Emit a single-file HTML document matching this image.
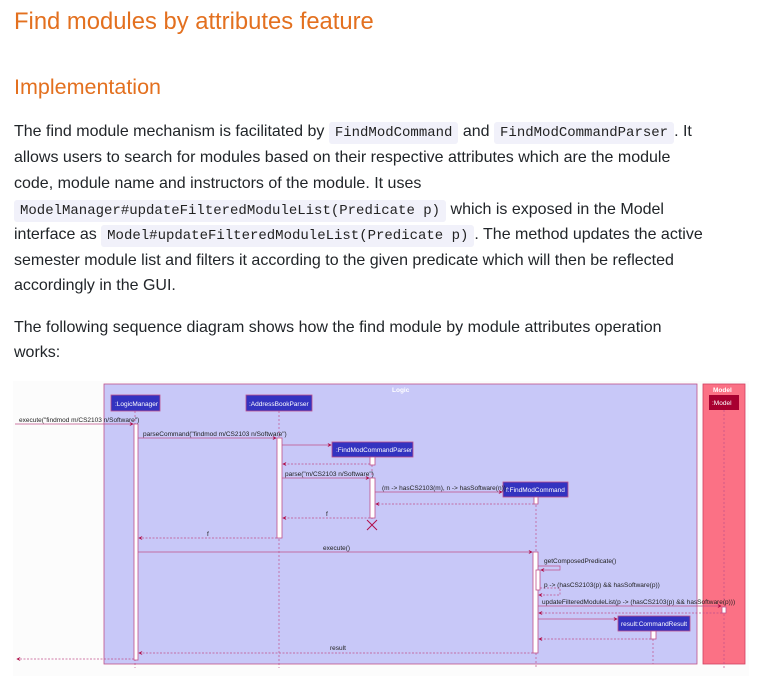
<!DOCTYPE html>
<html><head><meta charset="utf-8"><style>
html,body{margin:0;padding:0;background:#fff;width:766px;height:676px;overflow:hidden;position:relative;font-family:"Liberation Sans",sans-serif;color:#212529}
.h1{position:absolute;left:14px;top:8px;font-size:23.8px;color:#e3701f}
.h2{position:absolute;left:14px;top:75px;font-size:21.5px;color:#e3701f}
.l{position:absolute;left:14px;font-size:16px;white-space:nowrap;line-height:20px}
code{font-family:"Liberation Mono",monospace;font-size:14px;background:#f1f1fa;border-radius:3px;padding:3px 6px;color:#222}
svg{position:absolute;left:0;top:0}
svg text{font-family:"Liberation Sans",sans-serif;font-size:6.5px;fill:#222}
</style></head><body>
<div class="h1">Find modules by attributes feature</div>
<div class="h2">Implementation</div>
<div class="l" style="top:122px">The find module mechanism is facilitated by <code>FindModCommand</code> and <code>FindModCommandParser</code>. It</div>
<div class="l" style="top:148px">allows users to search for modules based on their respective attributes which are the module</div>
<div class="l" style="top:174px">code, module name and instructors of the module. It uses</div>
<div class="l" style="top:200px"><code>ModelManager#updateFilteredModuleList(Predicate p)</code> which is exposed in the Model</div>
<div class="l" style="top:225px">interface as <code>Model#updateFilteredModuleList(Predicate p)</code>. The method updates the active</div>
<div class="l" style="top:251px">semester module list and filters it according to the given predicate which will then be reflected</div>
<div class="l" style="top:276px">accordingly in the GUI.</div>
<div class="l" style="top:318px">The following sequence diagram shows how the find module by module attributes operation</div>
<div class="l" style="top:343px">works:</div>
<svg width="766" height="676" viewBox="0 0 766 676">
<defs><marker id="a" markerWidth="6" markerHeight="6" refX="5" refY="3" orient="auto"><path d="M0,0 L6,3 L0,6 L2,3z" fill="#b0104a"/></marker></defs>
<rect x="13" y="381" width="736" height="295" fill="#fcfcfc"/>
<rect x="104" y="384" width="593" height="280" fill="#c8c8f8" stroke="#c0508a" stroke-width="0.8"/>
<text x="392" y="392" style="fill:#fff;font-weight:bold">Logic</text>
<rect x="703" y="384" width="42" height="280" fill="#fb7185" stroke="#d04060" stroke-width="0.8"/>
<text x="713" y="392" style="fill:#fff;font-weight:bold">Model</text>
<g stroke="#c0508a" stroke-width="0.7" stroke-dasharray="2,2" fill="none">
<line x1="135" y1="411" x2="135" y2="668"/><line x1="279" y1="411" x2="279" y2="668"/>
<line x1="372" y1="457" x2="372" y2="520"/><line x1="536" y1="497" x2="536" y2="668"/>
<line x1="724" y1="410" x2="724" y2="668"/><line x1="653" y1="631" x2="653" y2="664"/>
</g>
<g stroke="#c0508a" stroke-width="0.8">
<rect x="111" y="395" width="49" height="16" fill="#3333c0"/>
<rect x="246" y="395" width="66" height="16" fill="#3333c0"/>
<rect x="332" y="442" width="81" height="15" fill="#3333c0"/>
<rect x="503" y="482" width="65" height="15" fill="#3333c0"/>
<rect x="618" y="616" width="72" height="15" fill="#3333c0"/>
<rect x="709" y="395" width="30" height="15" fill="#a80030" stroke="none"/>
<rect x="134" y="424" width="4" height="236" fill="#fff"/>
<rect x="277" y="438" width="5" height="100" fill="#fff"/>
<rect x="370" y="457" width="5" height="8" fill="#fff"/>
<rect x="370" y="478" width="5" height="40" fill="#fff"/>
<rect x="534" y="497" width="4" height="7" fill="#fff"/>
<rect x="533" y="552" width="5" height="101" fill="#fff"/>
<rect x="536" y="570" width="4" height="20" fill="#fff"/>
<rect x="722" y="607" width="4" height="6" fill="#fff"/>
<rect x="651" y="631" width="5" height="8" fill="#fff"/>
</g>
<g style="font-size:6.5px">
<text x="115" y="406" style="fill:#fff">:LogicManager</text>
<text x="249" y="406" style="fill:#fff">:AddressBookParser</text>
<text x="336" y="452" style="fill:#fff">:FindModCommandParser</text>
<text x="506" y="492" style="fill:#fff">f:FindModCommand</text>
<text x="621" y="626" style="fill:#fff">result:CommandResult</text>
<text x="712" y="405" style="fill:#fff">:Model</text>
</g>
<path d="M367,520 l10,10 M377,520 l-10,10" stroke="#b0104a" stroke-width="1"/>
<g stroke="#c0508a" stroke-width="0.7" fill="none" marker-end="url(#a)">
<line x1="15" y1="424" x2="133" y2="424"/>
<line x1="138" y1="438" x2="276" y2="438"/>
<line x1="282" y1="445" x2="331" y2="445"/>
<line x1="282" y1="478" x2="369" y2="478"/>
<line x1="375" y1="492" x2="502" y2="492"/>
<line x1="138" y1="552" x2="532" y2="552"/>
<path d="M538,566 H560 V570 H541"/>
<line x1="538" y1="606" x2="721" y2="606"/>
<line x1="538" y1="619" x2="617" y2="619"/>
</g>
<g stroke="#c0508a" stroke-width="0.7" fill="none" stroke-dasharray="2,1.5" marker-end="url(#a)">
<line x1="370" y1="464" x2="283" y2="464"/>
<line x1="534" y1="504" x2="376" y2="504"/>
<line x1="370" y1="518" x2="283" y2="518"/>
<line x1="277" y1="538" x2="139" y2="538"/>
<path d="M540,588 H560 V595 H539"/>
<line x1="722" y1="613" x2="539" y2="613"/>
<line x1="651" y1="639" x2="539" y2="639"/>
<line x1="533" y1="653" x2="139" y2="653"/>
<line x1="134" y1="659" x2="17" y2="659"/>
</g>
<text x="19" y="422">execute("findmod m/CS2103 n/Software")</text>
<text x="143" y="436">parseCommand("findmod m/CS2103 n/Software")</text>
<text x="285" y="476">parse("m/CS2103 n/Software")</text>
<text x="382" y="490">(m -&gt; hasCS2103(m), n -&gt; hasSoftware(n))</text>
<text x="326" y="516">f</text>
<text x="207" y="536">f</text>
<text x="323" y="550">execute()</text>
<text x="544" y="563">getComposedPredicate()</text>
<text x="544" y="587">p -&gt; (hasCS2103(p) &amp;&amp; hasSoftware(p))</text>
<text x="542" y="604">updateFilteredModuleList(p -&gt; (hasCS2103(p) &amp;&amp; hasSoftware(p)))</text>
<text x="330" y="650">result</text>
</svg>
</body></html>
